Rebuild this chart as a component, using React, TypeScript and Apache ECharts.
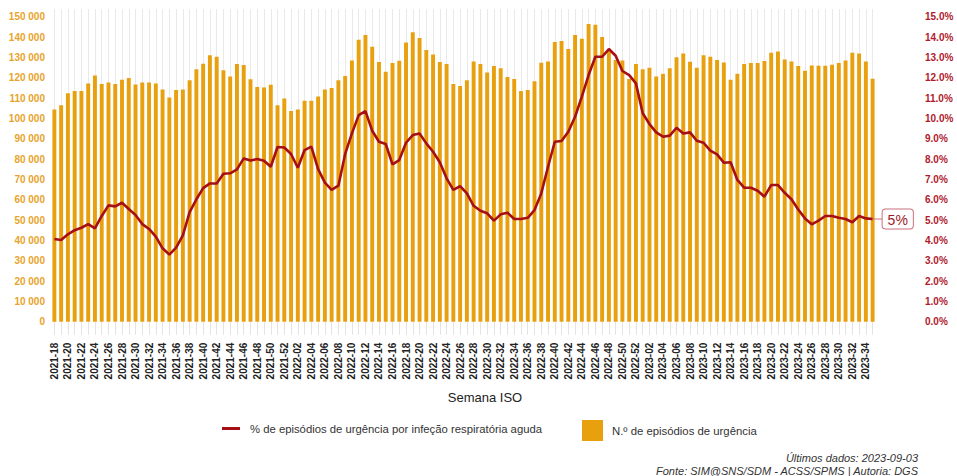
import React, { useEffect, useRef } from "react";
import * as echarts from "echarts";

// ISO week categories 2021-18 .. 2023-35
const startYear = 2021;
const startWeek = 18;
const weeksInYear: Record<number, number> = { 2021: 52, 2022: 52, 2023: 52 };
const endYear = 2023;
const endWeek = 35;

function buildWeeks(): string[] {
  const out: string[] = [];
  let y = startYear;
  let w = startWeek;
  while (y < endYear || (y === endYear && w <= endWeek)) {
    out.push(`${y}-${w < 10 ? "0" + w : w}`);
    w++;
    if (w > weeksInYear[y]) {
      w = 1;
      y++;
    }
  }
  return out;
}
const categories = buildWeeks();

// N.º de episódios de urgência
const episodes = [
  104400, 106500, 112400, 113400, 113400, 117200, 121100, 116900, 117700, 116900,
  119000, 119800, 116700, 117700, 117700, 117200, 114200, 110300, 113900, 114200,
  118800, 124200, 126900, 131100, 130300, 123700, 120600, 126700, 126200, 119200,
  115400, 115200, 116500, 106500, 109800, 103600, 104400, 108700, 108700, 110800,
  114200, 114900, 118800, 120800, 128500, 138700, 141000, 135200, 127700, 122900,
  127200, 128300, 137300, 142400, 139500, 133600, 131400, 127700, 126700, 116900,
  115900, 118800, 128000, 126700, 122600, 125700, 124600, 120300, 119300, 113400,
  113900, 118200, 127400, 128000, 137500, 138000, 134100, 141000, 139200, 146400,
  146000, 140000, 133500, 128700, 128400, 119300, 126700, 124200, 124900, 120600,
  121900, 124600, 130000, 131900, 127800, 124900, 131000, 130300, 128700, 127500,
  119000, 121900, 126700, 127200, 127200, 128200, 132300, 132900, 129000, 128000,
  125700, 123400, 126000, 125900, 125900, 126400, 127200, 128500, 132300, 131900,
  128000, 119500,
];

// % de episódios de urgência por infeção respiratória aguda
const pctIRA = [
  4.07, 4.02, 4.3, 4.5, 4.62, 4.8, 4.59, 5.2, 5.72, 5.67,
  5.85, 5.54, 5.25, 4.8, 4.56, 4.18, 3.61, 3.3, 3.64, 4.25,
  5.39, 6.02, 6.57, 6.8, 6.8, 7.28, 7.3, 7.49, 8.03, 7.93,
  8.0, 7.92, 7.62, 8.59, 8.57, 8.25, 7.57, 8.44, 8.61, 7.5,
  6.84, 6.48, 6.69, 8.25, 9.26, 10.16, 10.36, 9.39, 8.85, 8.74,
  7.74, 7.95, 8.8, 9.18, 9.26, 8.77, 8.36, 7.84, 7.05, 6.48,
  6.67, 6.31, 5.7, 5.46, 5.33, 4.97, 5.28, 5.36, 5.05, 5.05,
  5.11, 5.49, 6.31, 7.62, 8.85, 8.89, 9.34, 10.08, 11.07, 12.13,
  13.03, 13.03, 13.41, 13.08, 12.33, 12.13, 11.72, 10.25, 9.72, 9.31,
  9.1, 9.15, 9.54, 9.26, 9.31, 8.9, 8.8, 8.41, 8.23, 7.82,
  7.84, 6.97, 6.59, 6.59, 6.44, 6.15, 6.72, 6.72, 6.34, 6.02,
  5.52, 5.08, 4.79, 4.97, 5.2, 5.2, 5.11, 5.05, 4.89, 5.2,
  5.08, 5.05,
];

const lineName = "% de episódios de urgência por infeção respiratória aguda";
const barName = "N.º de episódios de urgência";
const lastDataDate = "2023-09-03";
const sourceText = "Fonte: SIM@SNS/SDM - ACSS/SPMS | Autoria: DGS";

const FONT = "'Liberation Sans', Arial, Helvetica, sans-serif";
const BAR_COLOR = "#E8A00F";
const LINE_COLOR = "#A50F15";
const LEFT_LABEL = "#E8A42A";
const RIGHT_LABEL = "#B01A2C";

const fmtThousands = (v: number) =>
  String(Math.round(v)).replace(/\B(?=(\d{3})+(?!\d))/g, " ");

export default function App() {
  const ref = useRef<HTMLDivElement>(null);

  useEffect(() => {
    if (!ref.current) return;
    document.body.style.margin = "0";
    const chart = echarts.init(ref.current, undefined, { renderer: "svg" });
    const leftMax = 153787;
    const rightMax = 15.3787;
    chart.setOption({
      animation: false,
      textStyle: { fontFamily: FONT },
      grid: { left: 51, right: 81, top: 9, bottom: 154.3, containLabel: false },
      legend: [
        {
          data: [{ name: lineName, icon: "rect" }],
          left: 217,
          top: 418,
          itemWidth: 18,
          itemHeight: 3,
          selectedMode: false,
          textStyle: { fontSize: 11.3, color: "#333", fontFamily: FONT, padding: [0, 0, 0, 5] },
        },
        {
          data: [{ name: barName, icon: "rect" }],
          left: 577,
          top: 415,
          itemWidth: 21,
          itemHeight: 21,
          selectedMode: false,
          textStyle: { fontSize: 11.35, color: "#333", fontFamily: FONT, padding: [0, 0, 0, 4] },
        },
      ],
      xAxis: {
        type: "category",
        data: categories,
        boundaryGap: true,
        axisLine: { show: false },
        axisTick: {
          show: true,
          interval: 0,
          alignWithLabel: true,
          length: 13,
          lineStyle: { color: "#e3e3e3" },
        },
        splitLine: {
          show: true,
          interval: 0,
          alignWithLabel: true,
          lineStyle: { color: "#e9e9e9", width: 1 },
        },
        axisLabel: {
          interval: 1,
          rotate: 90,
          margin: 21,
          fontSize: 10,
          fontWeight: "bold",
          color: "#222",
          fontFamily: FONT,
        },
      },
      yAxis: [
        {
          type: "value",
          min: 0,
          max: leftMax,
          interval: 10000,
          axisLine: { show: false },
          axisTick: { show: false },
          splitLine: { show: false },
          axisLabel: {
            showMaxLabel: false,
            margin: 6,
            fontSize: 10,
            fontWeight: "bold",
            color: LEFT_LABEL,
            fontFamily: FONT,
            formatter: (v: number) => (v % 10000 === 0 ? fmtThousands(v) : ""),
          },
        },
        {
          type: "value",
          position: "right",
          min: 0,
          max: rightMax,
          interval: 1,
          axisLine: { show: false },
          axisTick: { show: false },
          splitLine: { show: false },
          axisLabel: {
            showMaxLabel: false,
            margin: 49,
            fontSize: 10,
            fontWeight: "bold",
            color: RIGHT_LABEL,
            fontFamily: FONT,
            formatter: (v: number) =>
              Math.abs(v - Math.round(v)) < 1e-6 ? v.toFixed(1) + "%" : "",
          },
        },
      ],
      series: [
        {
          name: barName,
          type: "bar",
          yAxisIndex: 0,
          data: episodes,
          barWidth: "58%",
          color: BAR_COLOR,
          itemStyle: { color: BAR_COLOR },
          z: 2,
        },
        {
          name: lineName,
          type: "line",
          yAxisIndex: 1,
          data: pctIRA,
          color: LINE_COLOR,
          symbol: "none",
          showSymbol: false,
          lineStyle: { color: LINE_COLOR, width: 2.6 },
          z: 3,
          endLabel: {
            show: true,
            distance: 0,
            formatter: (p: any) => "{l|}{b|" + Math.round(p.value) + "%}",
            rich: {
              l: { width: 10, height: 1, backgroundColor: "#c8707c" },
              b: {
                fontSize: 14,
                fontFamily: FONT,
                color: "#A01828",
                backgroundColor: "#fff",
                borderColor: "#c8707c",
                borderWidth: 1,
                borderRadius: 3,
                padding: [3, 5, 2, 5],
              },
            },
          },
        },
      ],
      graphic: [
        {
          type: "text",
          x: 485,
          y: 397,
          style: {
            text: "Semana ISO",
            fontSize: 13,
            fontFamily: FONT,
            fill: "#222",
            textAlign: "center",
            textVerticalAlign: "middle",
          },
        },
        {
          type: "text",
          x: 918,
          y: 458,
          style: {
            text: "Últimos dados: " + lastDataDate,
            fontSize: 11,
            fontStyle: "italic",
            fontFamily: FONT,
            fill: "#333",
            textAlign: "right",
            textVerticalAlign: "middle",
          },
        },
        {
          type: "text",
          x: 918,
          y: 470.5,
          style: {
            text: sourceText,
            fontSize: 11,
            fontStyle: "italic",
            fontFamily: FONT,
            fill: "#333",
            textAlign: "right",
            textVerticalAlign: "middle",
          },
        },
      ],
    });
    return () => chart.dispose();
  }, []);

  return <div ref={ref} style={{ width: 957, height: 476 }} />;
}
